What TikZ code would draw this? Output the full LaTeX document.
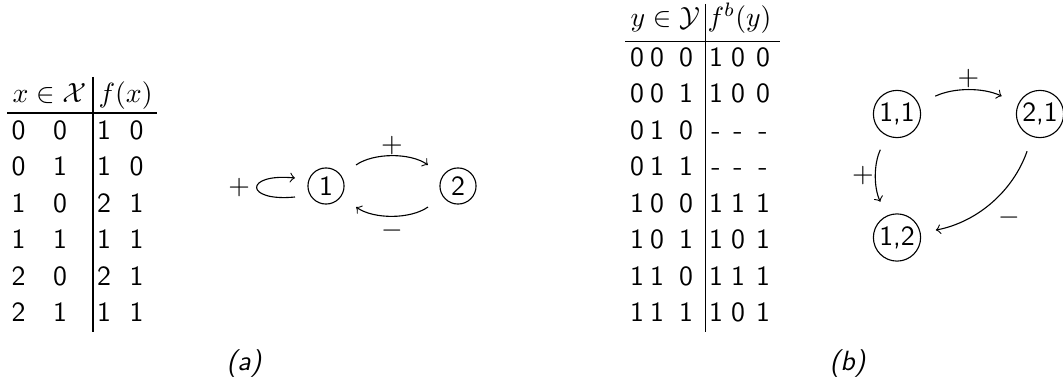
\documentclass[tikz,border=0pt]{standalone}
\usepackage{amsmath}
\begin{document}
\begin{tikzpicture}[x=0.36pt,y=-0.36pt,
    cell/.style={anchor=base,font=\sffamily},
    head/.style={anchor=base west,inner sep=0pt},
    var/.style={draw,circle,inner sep=0.5pt,minimum size=13pt,font=\sffamily},
    pair/.style={draw,circle,inner sep=0.5pt,minimum size=17pt,font=\sffamily},
    sign/.style={inner sep=1pt}]
   \useasboundingbox (0,0) rectangle (1063,386);
   \begin{scope}
    \node[head] (hx) at (12,103) {$x\in\mathcal{X}$};
    \node[head] (hf) at (98,103) {$f(x)$};
    \draw (7,113) -- (157,113);
    \draw (93,77) -- (93,332);
    \node[cell] (x11) at (18.5,139.5) {0}; \node[cell] (x12) at (60,139.5) {0}; \node[cell] (f11) at (104,139.5) {1}; \node[cell] (f12) at (136.5,139.5) {0};
    \node[cell] (x21) at (18.5,176) {0}; \node[cell] (x22) at (60,176) {1}; \node[cell] (f21) at (104,176) {1}; \node[cell] (f22) at (136.5,176) {0};
    \node[cell] (x31) at (18.5,212) {1}; \node[cell] (x32) at (60,212) {0}; \node[cell] (f31) at (104,212) {2}; \node[cell] (f32) at (136.5,212) {1};
    \node[cell] (x41) at (18.5,248.5) {1}; \node[cell] (x42) at (60,248.5) {1}; \node[cell] (f41) at (104,248.5) {1}; \node[cell] (f42) at (136.5,248.5) {1};
    \node[cell] (x51) at (18.5,285) {2}; \node[cell] (x52) at (60,285) {0}; \node[cell] (f51) at (104,285) {2}; \node[cell] (f52) at (136.5,285) {1};
    \node[cell] (x61) at (18.5,321.5) {2}; \node[cell] (x62) at (60,321.5) {1}; \node[cell] (f61) at (104,321.5) {1}; \node[cell] (f62) at (136.5,321.5) {1};
    \node[var] (v1) at (326,186) {1};
    \node[var] (v2) at (458,186) {2};
    \coordinate (l1) at (295,197);
    \coordinate (l2) at (295,178);
    \draw[->] (l1) .. controls (244,202) and (244,173) .. (l2) node[sign,pos=0.5,left=1.2pt] {$+$};
    \draw[->,shorten <=6.5pt,shorten >=6.5pt] (v1) to[bend left=35] node[sign,above] {$+$} (v2);
    \draw[->,shorten <=6.5pt,shorten >=6.5pt] (v2) to[bend left=35] node[sign,below=1.5pt] {$-$} (v1);
    \node[cell,font=\sffamily\itshape] (capa) at (244,370) {(a)};
   \end{scope}
   \begin{scope}[shift={(600,0)}]
    \node[head] (hy) at (30,27) {$y\in\mathcal{Y}$};
    \node[head] (hfb) at (107,27) {$f^b(y)$};
    \draw (25,41.7) -- (180,41.7);
    \draw (105.7,4) -- (105.7,332);
    \node[cell] (y11) at (37,66.5) {0}; \node[cell] (y12) at (57,66.5) {0}; \node[cell] (y13) at (86,66.5) {0}; \node[cell] (g11) at (116,66.5) {1}; \node[cell] (g12) at (138,66.5) {0}; \node[cell] (g13) at (163,66.5) {0};
    \node[cell] (y21) at (37,103) {0}; \node[cell] (y22) at (57,103) {0}; \node[cell] (y23) at (86,103) {1}; \node[cell] (g21) at (116,103) {1}; \node[cell] (g22) at (138,103) {0}; \node[cell] (g23) at (163,103) {0};
    \node[cell] (y31) at (37,139.5) {0}; \node[cell] (y32) at (57,139.5) {1}; \node[cell] (y33) at (86,139.5) {0}; \node[cell] (g31) at (116,139.5) {-}; \node[cell] (g32) at (138,139.5) {-}; \node[cell] (g33) at (163,139.5) {-};
    \node[cell] (y41) at (37,176) {0}; \node[cell] (y42) at (57,176) {1}; \node[cell] (y43) at (86,176) {1}; \node[cell] (g41) at (116,176) {-}; \node[cell] (g42) at (138,176) {-}; \node[cell] (g43) at (163,176) {-};
    \node[cell] (y51) at (37,212) {1}; \node[cell] (y52) at (57,212) {0}; \node[cell] (y53) at (86,212) {0}; \node[cell] (g51) at (116,212) {1}; \node[cell] (g52) at (138,212) {1}; \node[cell] (g53) at (163,212) {1};
    \node[cell] (y61) at (37,248.5) {1}; \node[cell] (y62) at (57,248.5) {0}; \node[cell] (y63) at (86,248.5) {1}; \node[cell] (g61) at (116,248.5) {1}; \node[cell] (g62) at (138,248.5) {0}; \node[cell] (g63) at (163,248.5) {1};
    \node[cell] (y71) at (37,285) {1}; \node[cell] (y72) at (57,285) {1}; \node[cell] (y73) at (86,285) {0}; \node[cell] (g71) at (116,285) {1}; \node[cell] (g72) at (138,285) {1}; \node[cell] (g73) at (163,285) {1};
    \node[cell] (y81) at (37,321.5) {1}; \node[cell] (y82) at (57,321.5) {1}; \node[cell] (y83) at (86,321.5) {1}; \node[cell] (g81) at (116,321.5) {1}; \node[cell] (g82) at (138,321.5) {0}; \node[cell] (g83) at (163,321.5) {1};
    \node[pair] (v11) at (297,114) {1,1};
    \node[pair] (v21) at (440,114) {2,1};
    \node[pair] (v12) at (297,237.5) {1,2};
    \draw[->,shorten <=6.5pt,shorten >=6.5pt] (v11) to[bend left=25] node[sign,above] {$+$} (v21);
    \draw[->,shorten <=5.5pt,shorten >=5.5pt] (v11) to[bend right=25] node[sign,left] {$+$} (v12);
    \draw[->,shorten <=5.5pt,shorten >=5.5pt] (v21) to[bend left=30] node[sign,below right=1.5pt] {$-$} (v12);
    \node[cell,font=\sffamily\itshape] (capb) at (247.5,370) {(b)};
   \end{scope}
\end{tikzpicture}
\end{document}
